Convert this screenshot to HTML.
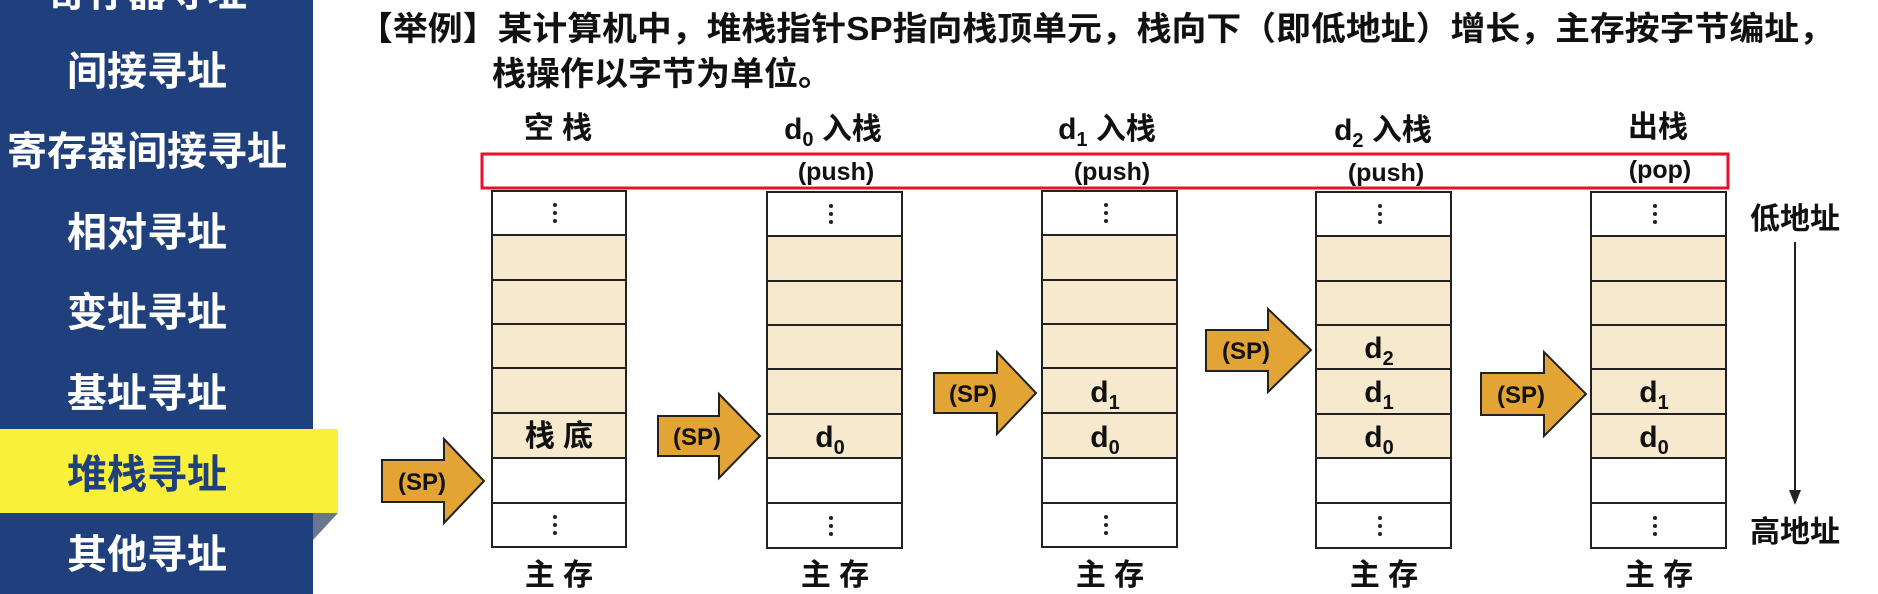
<!DOCTYPE html>
<html><head><meta charset="utf-8"><style>
html,body{margin:0;padding:0;background:#fff;}
svg{display:block;}
text{font-family:"Liberation Sans","Noto Sans CJK SC",sans-serif;font-weight:bold;}
</style></head><body>
<svg width="1878" height="594" viewBox="0 0 1878 594" xmlns="http://www.w3.org/2000/svg">
<rect x="0" y="0" width="313" height="594" fill="#1f3f7d"/>
<polygon points="313,513 338,513 313,540" fill="#6b7590"/>
<rect x="0" y="429" width="338" height="84" fill="#f8f03a"/>
<g fill="#fff" font-size="40" text-anchor="middle">
<text x="147" y="6">寄存器寻址</text>
<text x="147" y="85">间接寻址</text>
<text x="147" y="165">寄存器间接寻址</text>
<text x="147" y="246">相对寻址</text>
<text x="147" y="326">变址寻址</text>
<text x="147" y="407">基址寻址</text>
<text x="147" y="488" fill="#1f3f7d">堆栈寻址</text>
<text x="147" y="568">其他寻址</text>
</g>
<g font-size="33" fill="#111">
<text x="358" y="40" textLength="1476" lengthAdjust="spacingAndGlyphs">【举例】某计算机中，堆栈指针SP指向栈顶单元，栈向下（即低地址）增长，主存按字节编址，</text>
<text x="492" y="85" textLength="340" lengthAdjust="spacingAndGlyphs">栈操作以字节为单位。</text>
</g>
<rect x="482" y="154" width="1246" height="34" fill="none" stroke="#e8102a" stroke-width="3"/>
<g font-size="30" fill="#111" text-anchor="middle">
<text x="558" y="138">空 栈</text>
<text x="833" y="139">d<tspan font-size="20" dy="7">0</tspan><tspan dy="-7"> 入栈</tspan></text>
<text x="1107" y="139">d<tspan font-size="20" dy="7">1</tspan><tspan dy="-7"> 入栈</tspan></text>
<text x="1383" y="140">d<tspan font-size="20" dy="7">2</tspan><tspan dy="-7"> 入栈</tspan></text>
<text x="1658" y="137">出栈</text>
<g font-size="25">
<text x="836" y="180">(push)</text>
<text x="1112" y="180">(push)</text>
<text x="1386" y="181">(push)</text>
<text x="1660" y="178">(pop)</text>
</g>
<text x="1795" y="229">低地址</text>
<text x="1795" y="542">高地址</text>
<g font-size="30">
<text x="559" y="585">主 存</text><text x="835" y="585">主 存</text><text x="1110" y="585">主 存</text><text x="1384" y="585">主 存</text><text x="1659" y="585">主 存</text>
</g>
</g>
<line x1="1795" y1="242" x2="1795" y2="495" stroke="#222" stroke-width="2"/>
<polygon points="1789,490 1801,490 1795,505" fill="#222"/>
<g stroke="#222" stroke-width="2">
<rect x="492" y="191" width="134" height="356" fill="#fff"/>
<rect x="492" y="235" width="134" height="223" fill="#f7e9cd"/>
<rect x="767" y="192" width="135" height="356" fill="#fff"/>
<rect x="767" y="236" width="135" height="222" fill="#f7e9cd"/>
<rect x="1042" y="191" width="135" height="356" fill="#fff"/>
<rect x="1042" y="235" width="135" height="223" fill="#f7e9cd"/>
<rect x="1316" y="192" width="135" height="356" fill="#fff"/>
<rect x="1316" y="236" width="135" height="222" fill="#f7e9cd"/>
<rect x="1591" y="192" width="135" height="356" fill="#fff"/>
<rect x="1591" y="236" width="135" height="222" fill="#f7e9cd"/>
<path d="M492 235H626M492 280H626M492 324H626M492 368H626M492 413H626M492 458H626M492 503H626
M767 236H902M767 281H902M767 325H902M767 369H902M767 414H902M767 458H902M767 503H902
M1042 235H1177M1042 280H1177M1042 324H1177M1042 368H1177M1042 413H1177M1042 458H1177M1042 503H1177
M1316 236H1451M1316 281H1451M1316 325H1451M1316 369H1451M1316 414H1451M1316 458H1451M1316 503H1451
M1591 236H1726M1591 281H1726M1591 325H1726M1591 369H1726M1591 414H1726M1591 458H1726M1591 503H1726" fill="none"/>
</g>
<defs>
<g id="dots"><circle cx="0" cy="0" r="2"/><circle cx="0" cy="8" r="2"/><circle cx="0" cy="16" r="2"/></g>
</defs>
<g fill="#222">
<use href="#dots" x="555" y="205"/><use href="#dots" x="555" y="517"/>
<use href="#dots" x="831" y="206"/><use href="#dots" x="831" y="518"/>
<use href="#dots" x="1106" y="205"/><use href="#dots" x="1106" y="517"/>
<use href="#dots" x="1380" y="206"/><use href="#dots" x="1380" y="518"/>
<use href="#dots" x="1655" y="206"/><use href="#dots" x="1655" y="518"/>
</g>
<g font-size="30" fill="#111" text-anchor="middle">
<text x="559" y="446">栈 底</text>
<text x="830" y="447">d<tspan font-size="20" dy="7">0</tspan></text>
<text x="1105" y="402">d<tspan font-size="20" dy="7">1</tspan></text>
<text x="1105" y="447">d<tspan font-size="20" dy="7">0</tspan></text>
<text x="1379" y="358">d<tspan font-size="20" dy="7">2</tspan></text>
<text x="1379" y="402">d<tspan font-size="20" dy="7">1</tspan></text>
<text x="1379" y="447">d<tspan font-size="20" dy="7">0</tspan></text>
<text x="1654" y="402">d<tspan font-size="20" dy="7">1</tspan></text>
<text x="1654" y="447">d<tspan font-size="20" dy="7">0</tspan></text>
</g>
<g fill="#e2a535" stroke="#222" stroke-width="2">
<polygon points="382,460 444,460 444,439 484,481 444,523 444,502 382,502"/>
<polygon points="658,416 719,416 719,394 760,436 719,478 719,456 658,456"/>
<polygon points="934,373 997,373 997,352 1036,393 997,434 997,413 934,413"/>
<polygon points="1206,330 1268,330 1268,309 1311,350 1268,392 1268,371 1206,371"/>
<polygon points="1481,373 1544,373 1544,352 1586,394 1544,436 1544,415 1481,415"/>
</g>
<g font-size="24" fill="#111" text-anchor="middle">
<text x="422" y="490">(SP)</text>
<text x="697" y="445">(SP)</text>
<text x="973" y="402">(SP)</text>
<text x="1246" y="359">(SP)</text>
<text x="1521" y="403">(SP)</text>
</g>
</svg>
</body></html>
